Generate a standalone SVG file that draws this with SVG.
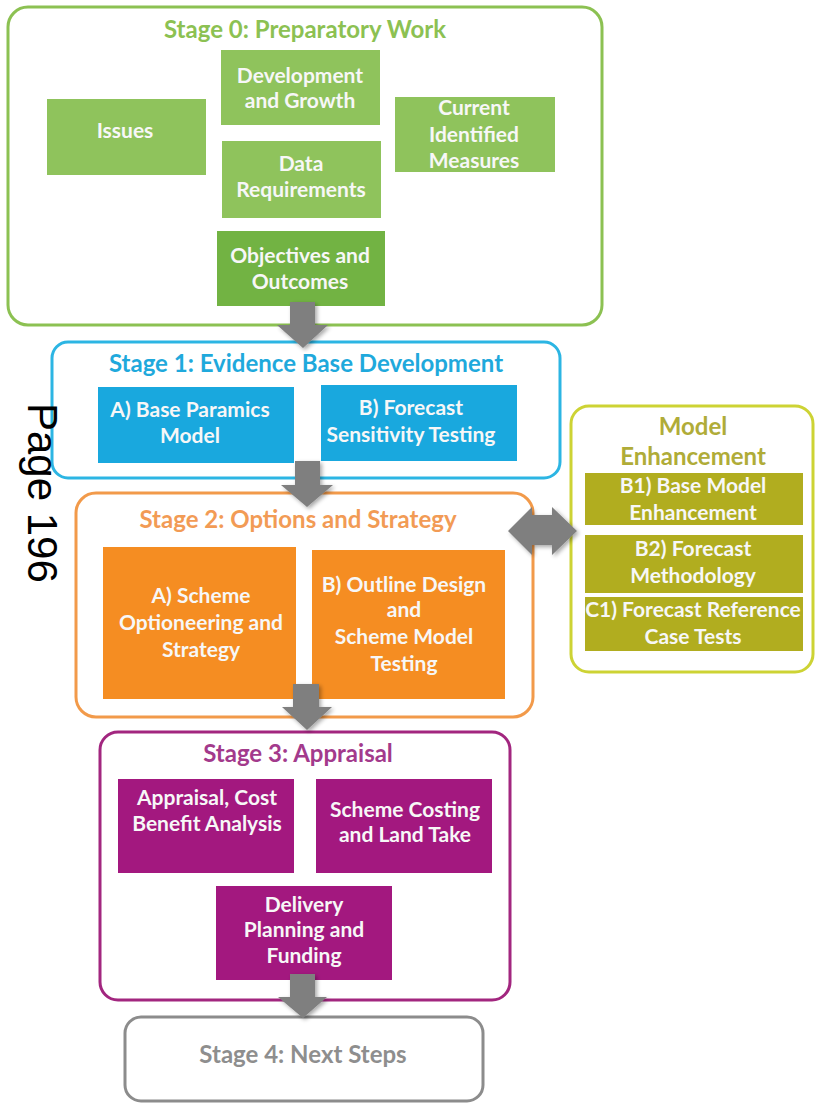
<svg xmlns="http://www.w3.org/2000/svg" width="815" height="1104" viewBox="0 0 815 1104">
<defs>
<filter id="sh" x="-20%" y="-20%" width="150%" height="150%">
<feGaussianBlur in="SourceAlpha" stdDeviation="2"/>
<feOffset dx="2" dy="2"/>
<feComponentTransfer><feFuncA type="linear" slope="0.35"/></feComponentTransfer>
<feMerge><feMergeNode/><feMergeNode in="SourceGraphic"/></feMerge>
</filter>
</defs>
<style>
text{font-family:Lato,"Open Sans","Liberation Sans",sans-serif;font-weight:bold;text-anchor:middle}
.lbl{fill:#f7f7f7;font-size:21px}
.ttl{font-size:24px}
.frame{fill:#fff;stroke-width:3}
.arrow{fill:#7f7f7f;filter:url(#sh)}
.g0{fill:#8fc35c}
.g0d{fill:#72b343}
.c1{fill:#19a8de}
.o2{fill:#f58d22}
.y5{fill:#b1ad1f}
.p3{fill:#a3187f}
</style>
<rect width="815" height="1104" fill="#fff"/>

<g id="stage0">
<rect class="frame" x="8" y="7" width="594" height="318" rx="20" stroke="#8cc152"/>
<text class="ttl" x="305" y="38" fill="#8cc152">Stage 0: Preparatory Work</text>
</g>
<g id="issues"><rect class="g0" x="47" y="99" width="159" height="76"/><text class="lbl" x="125" y="138">Issues</text></g>
<g id="devgrowth"><rect class="g0" x="221" y="50" width="159" height="75"/><text class="lbl" x="300" y="83">Development</text><text class="lbl" x="300" y="108">and Growth</text></g>
<g id="current"><rect class="g0" x="395" y="97" width="160" height="75"/><text class="lbl" x="474" y="115">Current</text><text class="lbl" x="474" y="142">Identified</text><text class="lbl" x="474" y="168">Measures</text></g>
<g id="datareq"><rect class="g0" x="222" y="141" width="159" height="77"/><text class="lbl" x="301" y="171">Data</text><text class="lbl" x="301" y="197">Requirements</text></g>
<g id="objectives"><rect class="g0d" x="217" y="231" width="168" height="75"/><text class="lbl" x="300" y="263">Objectives and</text><text class="lbl" x="300" y="289">Outcomes</text></g>

<g id="stage1">
<rect class="frame" x="52" y="342" width="508" height="136" rx="16" stroke="#2cb5e3"/>
<text class="ttl" x="306" y="372" fill="#1fa9dc">Stage 1: Evidence Base Development</text>
</g>
<g id="baseparamics"><rect class="c1" x="98" y="387" width="196" height="76"/><text class="lbl" x="190" y="417">A) Base Paramics</text><text class="lbl" x="190" y="443">Model</text></g>
<g id="forecastsens"><rect class="c1" x="321" y="385" width="196" height="76"/><text class="lbl" x="411" y="415">B) Forecast</text><text class="lbl" x="411" y="442">Sensitivity Testing</text></g>

<g id="stage2">
<rect class="frame" x="76" y="493" width="457" height="224" rx="20" stroke="#f29a4a"/>
<text class="ttl" x="298" y="528" fill="#f29b55">Stage 2: Options and Strategy</text>
</g>
<g id="scheme"><rect class="o2" x="103" y="547" width="193" height="152"/><text class="lbl" x="201" y="603">A) Scheme</text><text class="lbl" x="201" y="630">Optioneering and</text><text class="lbl" x="201" y="657">Strategy</text></g>
<g id="outline"><rect class="o2" x="312" y="550" width="193" height="149"/><text class="lbl" x="404" y="592">B) Outline Design</text><text class="lbl" x="404" y="617">and</text><text class="lbl" x="404" y="644">Scheme Model</text><text class="lbl" x="404" y="671">Testing</text></g>

<g id="modelenh">
<rect class="frame" x="571" y="406" width="242" height="266" rx="18" stroke="#cdd334"/>
<text class="ttl" x="693" y="435" fill="#b0ac38">Model</text>
<text class="ttl" x="693" y="465" fill="#b0ac38">Enhancement</text>
</g>
<g id="b1"><rect class="y5" x="585" y="473" width="218" height="52"/><text class="lbl" x="693" y="493">B1) Base Model</text><text class="lbl" x="693" y="520">Enhancement</text></g>
<g id="b2"><rect class="y5" x="585" y="535" width="218" height="58"/><text class="lbl" x="693" y="556">B2) Forecast</text><text class="lbl" x="693" y="583">Methodology</text></g>
<g id="c1"><rect class="y5" x="585" y="597" width="218" height="54"/><text class="lbl" x="693" y="617">C1) Forecast Reference</text><text class="lbl" x="693" y="644">Case Tests</text></g>

<g id="stage3">
<rect class="frame" x="100" y="732" width="410" height="268" rx="18" stroke="#a2267f"/>
<text class="ttl" x="298" y="762" fill="#a33a8c">Stage 3: Appraisal</text>
</g>
<g id="appraisalcba"><rect class="p3" x="118" y="779" width="176" height="94"/><text class="lbl" x="207" y="805">Appraisal, Cost</text><text class="lbl" x="207" y="831">Benefit Analysis</text></g>
<g id="costing"><rect class="p3" x="316" y="779" width="176" height="94"/><text class="lbl" x="405" y="817">Scheme Costing</text><text class="lbl" x="405" y="842">and Land Take</text></g>
<g id="delivery"><rect class="p3" x="216" y="886" width="176" height="94"/><text class="lbl" x="304" y="912">Delivery</text><text class="lbl" x="304" y="937">Planning and</text><text class="lbl" x="304" y="963">Funding</text></g>

<g id="stage4">
<rect class="frame" x="125" y="1017" width="358" height="84" rx="16" stroke="#8c8c8c"/>
<text class="ttl" x="303" y="1063" fill="#8e8e8e">Stage 4: Next Steps</text>
</g>

<g id="connectors">
<polygon class="arrow" points="290,302 315,302 315,325 328,325 303,348 277,325 290,325"/>
<polygon class="arrow" points="295,461 320,461 320,485 333,485 307,507 281,485 295,485"/>
<polygon class="arrow" points="293,684 319,684 319,707 332,707 307,730 282,707 293,707"/>
<polygon class="arrow" points="290,974 315,974 315,997 327,997 303,1018 278,997 290,997"/>
<polygon class="arrow" points="508,531 532,507 532,515 552,515 552,507 577,531 552,555 552,545 532,545 532,555"/>
</g>

<text transform="translate(28,403) rotate(90)" x="0" y="0" style="font-family:'Liberation Sans',Arial,sans-serif;font-weight:normal;text-anchor:start;font-size:42px" fill="#000">Page 196</text>
</svg>
